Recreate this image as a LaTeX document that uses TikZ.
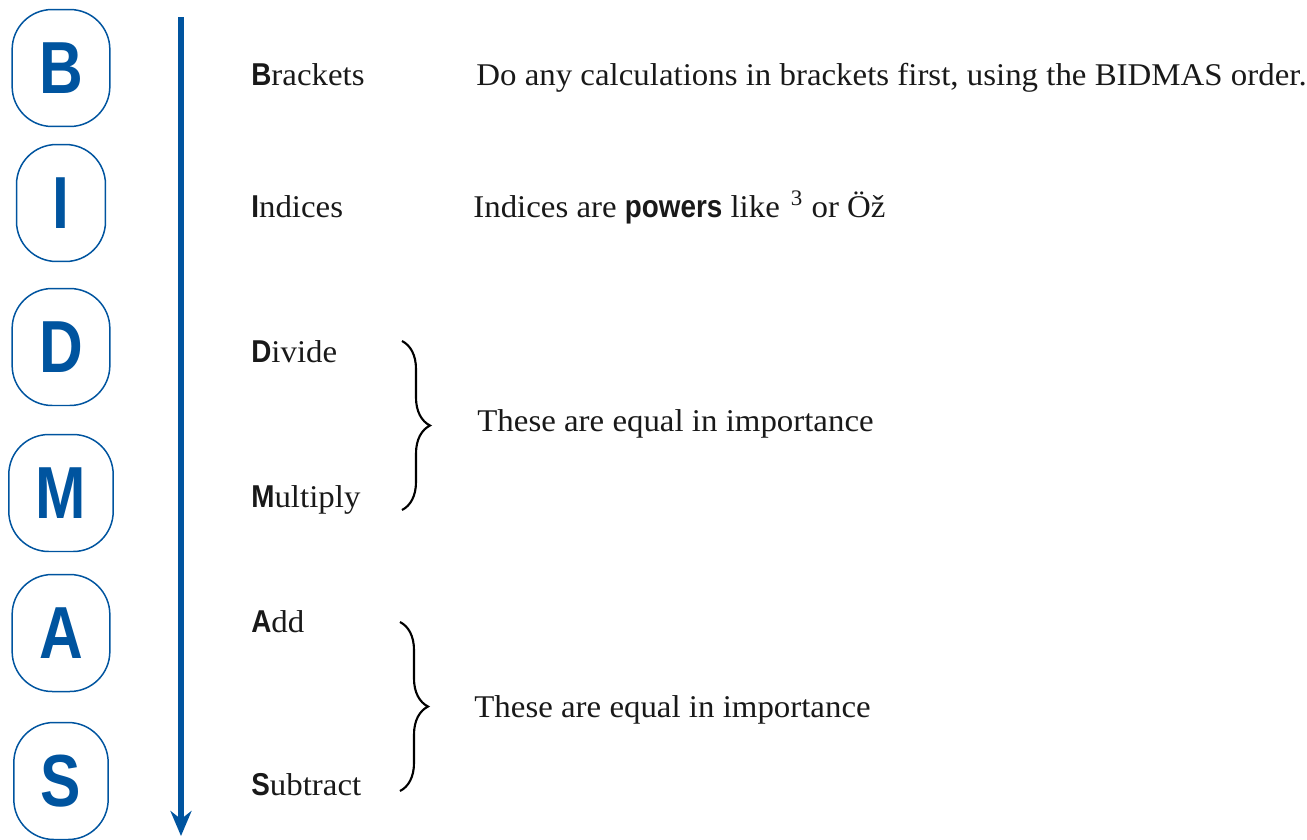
\documentclass[tikz,border=0pt]{standalone}
\usepackage{fontspec}
\setmainfont[FakeStretch=1.04]{Liberation Serif}
\newfontfamily\sansfont[FakeStretch=0.88]{Liberation Sans}
\newfontfamily\letterfont[FakeStretch=0.82]{Liberation Sans}
\usetikzlibrary{arrows.meta,positioning,decorations.pathreplacing}
\definecolor{bidblue}{RGB}{0,84,159}
\newcommand{\opletter}[1]{{\sansfont\bfseries #1}}

\begin{document}
\begin{tikzpicture}[x=0.02cm, y=-0.02cm, >=Stealth,
  every node/.style={font=\fontsize{18}{21}\selectfont, text=black!90, inner sep=0pt},
  letterbox/.style={draw=bidblue, line width=0.85pt, rounded corners=0.8cm,
    minimum width=1.78cm, minimum height=2.34cm, inner xsep=0.54cm,
    text=bidblue, font=\letterfont\bfseries\fontsize{42}{42}\selectfont},
  bracebox/.style={decorate, decoration={brace, amplitude=0.56cm}, line width=1.2pt}]
  \useasboundingbox (0,0) rectangle (1307,839);

  % BIDMAS letters
  \foreach \lt/\y in {B/68, I/203, D/347, M/493, A/633, S/781} {
    \node[letterbox] (box\lt) at (61,\y) {\lt};
  }

  % order arrow
  \coordinate (arrtop) at (181,17);
  \coordinate (arrbot) at (181,836);
  \draw[-{Stealth[length=0.5cm,width=0.42cm]}, bidblue, line width=0.12cm] (arrtop) -- (arrbot);

  % operation names
  \foreach \nm/\y/\lt/\rest in {brackets/85/B/rackets, indices/217/I/ndices, divide/362/D/ivide,
      multiply/507/M/ultiply, add/632/A/dd, subtract/795/S/ubtract} {
    \node[anchor=base west] (\nm) at (251,\y) {\opletter{\lt}\rest};
  }

  % descriptions
  \node[anchor=base west] (ruleb) at (476,85) {Do any calculations in brackets first, using the BIDMAS order.};
  \node[anchor=base west] (rulei) at (473,217)
    {Indices are {\sansfont\bfseries powers} like\hspace{0.35em}\textsuperscript{3} or Öž};

  \draw[bracebox] (402,341) -- (402,510);
  \node[anchor=base west] (equaldm) at (477,431) {These are equal in importance};
  \draw[bracebox] (400,622) -- (400,791);
  \node[anchor=base west] (equalas) at (474,717) {These are equal in importance};
\end{tikzpicture}
\end{document}
